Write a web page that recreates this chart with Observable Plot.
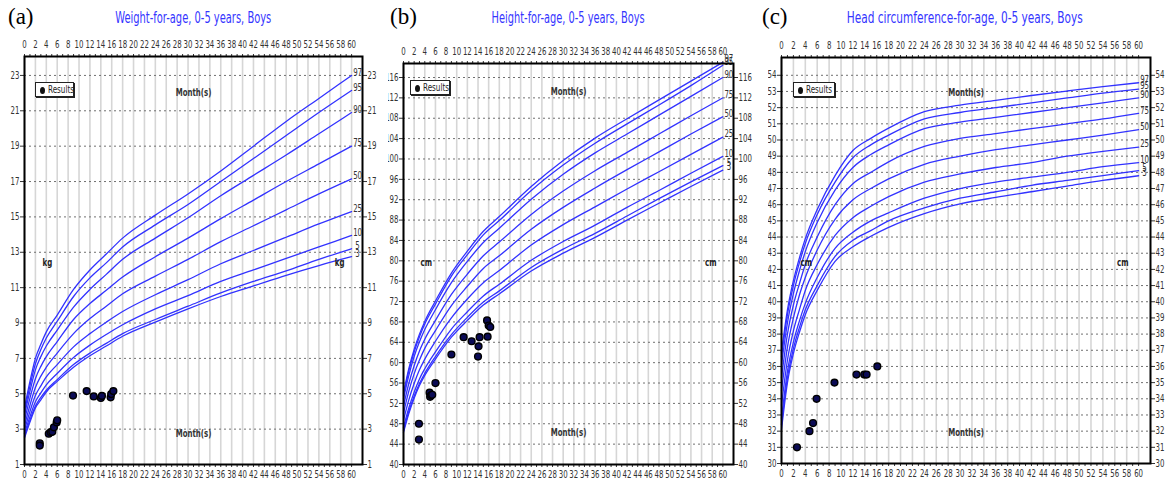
<!DOCTYPE html>
<html><head><meta charset="utf-8">
<script src="https://cdn.jsdelivr.net/npm/d3@7"></script>
<script src="https://cdn.jsdelivr.net/npm/@observablehq/plot@0.6"></script>
<style>
html,body{margin:0;padding:0;background:#fff;}
body{width:1170px;height:487px;overflow:hidden;position:relative;font-family:"DejaVu Sans Condensed","Liberation Sans",sans-serif;}
.panel{position:absolute;top:0;}
.lab{position:absolute;font-family:"Liberation Serif","DejaVu Serif",serif;font-size:23px;color:#000;line-height:1;}
.fit{position:absolute;white-space:nowrap;transform-origin:center center;line-height:1;}
.title{font-size:15px;color:#3535ff;}
.legend{position:absolute;border:1px solid #222;box-shadow:1px 1px 0 #222;background:#fff;font-size:10px;color:#222;height:15px;line-height:13px;box-sizing:border-box;white-space:nowrap;overflow:hidden;}
.legend i{display:inline-block;width:5px;height:7px;border-radius:50%;background:#111;margin:0 3px 0 4px;vertical-align:-1px;}
.legend span{display:inline-block;transform:scaleX(0.8);transform-origin:left center;}
</style></head>
<body>
<div class="lab" style="left:8px;top:5px">(a)</div>
<div class="lab" style="left:390px;top:5px">(b)</div>
<div class="lab" style="left:762px;top:5px">(c)</div>
<div class="fit title" data-cx="193" data-w="156" style="top:11px">Weight-for-age, 0-5 years, Boys</div>
<div class="fit title" data-cx="568" data-w="153" style="top:11px">Height-for-age, 0-5 years, Boys</div>
<div class="fit title" data-cx="965" data-w="236" style="top:11px">Head circumference-for-age, 0-5 years, Boys</div>
<div id="pa" class="panel" style="left:0px"></div>
<div id="pb" class="panel" style="left:388px"></div>
<div id="pc" class="panel" style="left:768px"></div>
<div class="legend" style="left:35px;top:82px;width:39px"><i></i><span>Results</span></div>
<div class="legend" style="left:410px;top:80px;width:40px"><i></i><span>Results</span></div>
<div class="legend" style="left:793px;top:82px;width:42px"><i></i><span>Results</span></div>
<script>
// ---------- shared ----------
const percentiles = [97, 95, 90, 75, 50, 25, 10, 5, 3];
const curveMonths = [0, 1, 2, 3, 4, 6, 9, 12, 15, 18, 24, 30, 36, 42, 48, 54, 60];
const xLabels = [0,2,4,6,8,10,12,14,16,18,20,22,24,26,28,30,32,34,36,38,40,42,44,46,48,50,52,54,56,58,60];

// ---------- (a) weight-for-age, kg ----------
const weightTicks = [1,3,5,7,9,11,13,15,17,19,21,23];
const weight97 = [4.2, 5.7, 7.0, 7.8, 8.5, 9.45, 10.9, 12.0, 12.9, 13.8, 15.1, 16.3, 17.6, 19.0, 20.4, 21.7, 23.0];
const weight95 = [4.0, 5.45, 6.7, 7.5, 8.15, 9.1, 10.5, 11.55, 12.4, 13.3, 14.55, 15.7, 17.0, 18.3, 19.6, 20.9, 22.15];
const weight90 = [3.8, 5.15, 6.35, 7.1, 7.7, 8.6, 9.9, 10.9, 11.75, 12.6, 13.8, 14.95, 16.2, 17.35, 18.5, 19.7, 20.9];
const weight75 = [3.5, 4.75, 5.85, 6.55, 7.1, 7.95, 9.2, 10.1, 10.85, 11.6, 12.75, 13.8, 14.9, 15.95, 17.0, 18.0, 19.0];
const weight50 = [3.2, 4.35, 5.35, 6.0, 6.5, 7.3, 8.4, 9.25, 9.95, 10.65, 11.65, 12.6, 13.6, 14.5, 15.4, 16.3, 17.15];
const weight25 = [2.95, 4.0, 4.9, 5.45, 5.95, 6.65, 7.65, 8.4, 9.05, 9.65, 10.6, 11.45, 12.35, 13.1, 13.85, 14.6, 15.3];
const weight10 = [2.75, 3.7, 4.55, 5.05, 5.5, 6.15, 7.05, 7.75, 8.35, 8.9, 9.8, 10.55, 11.35, 12.0, 12.65, 13.3, 13.95];
const weight5  = [2.6, 3.5, 4.3, 4.8, 5.2, 5.8, 6.65, 7.3, 7.85, 8.4, 9.2, 9.95, 10.7, 11.35, 11.95, 12.6, 13.2];
const weight3  = [2.5, 3.4, 4.2, 4.65, 5.1, 5.7, 6.5, 7.15, 7.7, 8.25, 9.05, 9.8, 10.5, 11.1, 11.7, 12.25, 12.75];
const weightPtMonths = [2.8, 2.8, 4.45, 4.8, 5.1, 5.4, 5.9, 6.0, 8.9, 11.4, 12.7, 14.0, 14.2, 15.8, 15.9, 16.3];
const weightPtValues = [2.2, 2.07, 2.74, 2.83, 2.85, 3.1, 3.38, 3.5, 4.9, 5.15, 4.85, 4.76, 4.88, 4.8, 4.98, 5.15];

// ---------- (b) height-for-age, cm ----------
const heightTicks = [40,44,48,52,56,60,64,68,72,76,80,84,88,92,96,100,104,108,112,116];
const height97 = [54.0, 58.8, 62.6, 65.6, 68.1, 72.1, 77.6, 81.9, 85.8, 88.7, 94.6, 99.7, 104.1, 107.9, 111.6, 115.3, 119.0];
const height95 = [53.6, 58.4, 62.1, 65.1, 67.6, 71.5, 77.0, 81.2, 85.1, 87.9, 93.8, 98.8, 103.1, 106.9, 110.6, 114.4, 118.4];
const height90 = [52.9, 57.5, 61.2, 64.1, 66.5, 70.4, 75.7, 79.9, 83.6, 86.4, 92.1, 97.0, 101.2, 104.9, 108.6, 112.3, 116.0];
const height75 = [51.5, 55.9, 59.4, 62.3, 64.6, 68.3, 73.4, 77.4, 81.0, 83.7, 89.1, 93.7, 97.7, 101.3, 104.9, 108.5, 112.0];
const height50 = [50.1, 54.4, 57.8, 60.5, 62.8, 66.3, 71.2, 75.0, 78.5, 81.0, 86.2, 90.5, 94.3, 97.9, 101.4, 104.9, 108.3];
const height25 = [48.7, 52.7, 55.9, 58.6, 60.7, 64.2, 68.8, 72.5, 75.7, 78.1, 83.1, 87.1, 90.6, 94.1, 97.5, 100.9, 104.3];
const height10 = [47.3, 51.1, 54.2, 56.8, 58.8, 62.1, 66.6, 70.0, 73.1, 75.4, 80.1, 83.8, 87.0, 90.5, 93.8, 97.2, 100.5];
const height5  = [46.6, 50.4, 53.4, 55.9, 57.9, 61.2, 65.5, 68.9, 71.9, 74.1, 78.7, 82.3, 85.4, 88.8, 92.2, 95.5, 98.7];
const height3  = [46.3, 50.0, 53.0, 55.5, 57.5, 60.7, 65.0, 68.3, 71.3, 73.5, 78.0, 81.5, 84.6, 88.0, 91.3, 94.6, 97.8];
const heightPtMonths = [2.9, 2.9, 4.9, 5.0, 5.2, 5.4, 6.0, 9.0, 11.3, 12.8, 14.0, 14.1, 14.3, 15.7, 15.8, 16.0, 16.3];
const heightPtValues = [48.0, 44.9, 54.1, 53.3, 53.6, 53.7, 56.0, 61.6, 65.0, 64.2, 61.2, 63.2, 65.0, 68.3, 65.1, 67.3, 67.0];

// ---------- (c) head circumference-for-age, cm ----------
const headTicks = [30,31,32,33,34,35,36,37,38,39,40,41,42,43,44,45,46,47,48,49,50,51,52,53,54];
const head97 = [36.9, 39.5, 41.3, 42.7, 43.9, 45.7, 47.8, 49.35, 50.1, 50.73, 51.75, 52.15, 52.45, 52.75, 53.03, 53.3, 53.54];
const head95 = [36.6, 39.2, 41.0, 42.4, 43.6, 45.4, 47.4, 48.9, 49.7, 50.3, 51.3, 51.7, 52.0, 52.3, 52.6, 52.9, 53.15];
const head90 = [36.1, 38.7, 40.5, 41.9, 43.1, 44.9, 46.9, 48.3, 49.1, 49.7, 50.7, 51.1, 51.4, 51.7, 52.0, 52.3, 52.6];
const head75 = [35.3, 38.0, 39.8, 41.1, 42.3, 44.0, 46.0, 47.3, 48.0, 48.65, 49.6, 50.1, 50.4, 50.7, 51.0, 51.3, 51.65];
const head50 = [34.5, 37.2, 39.0, 40.4, 41.5, 43.2, 45.1, 46.3, 47.0, 47.6, 48.5, 49.0, 49.4, 49.7, 50.0, 50.3, 50.64];
const head25 = [33.6, 36.4, 38.2, 39.5, 40.7, 42.3, 44.1, 45.2, 45.9, 46.5, 47.4, 47.9, 48.3, 48.6, 49.0, 49.3, 49.56];
const head10 = [32.8, 35.7, 37.5, 38.8, 39.9, 41.5, 43.3, 44.3, 45.0, 45.5, 46.4, 47.0, 47.4, 47.7, 48.0, 48.35, 48.6];
const head5  = [32.4, 35.3, 37.1, 38.4, 39.5, 41.0, 42.8, 43.8, 44.4, 45.0, 45.8, 46.4, 46.8, 47.2, 47.5, 47.8, 48.1];
const head3  = [32.1, 35.0, 36.8, 38.1, 39.2, 40.7, 42.5, 43.4, 44.05, 44.6, 45.45, 46.05, 46.45, 46.8, 47.15, 47.5, 47.79];
const headPtMonths = [2.6, 4.7, 5.3, 5.9, 8.9, 12.6, 13.9, 14.3, 16.1];
const headPtValues = [31.0, 32.0, 32.5, 34.0, 35.0, 35.5, 35.5, 35.5, 36.0];

const FONT = '"DejaVu Sans Condensed","Liberation Sans",sans-serif';
const allMonths = d3.range(0, 61, 1);

// narrow every text horizontally (the original uses a condensed face)
function condense(svg, s) {
  svg.querySelectorAll("text").forEach(t => {
    const tr = t.getAttribute("transform") || "";
    t.setAttribute("transform", (tr + ` scale(${s},1)`).trim());
  });
  return svg;
}

function panel(cfg) {
  const rows = [];
  cfg.curves.forEach((vals, i) => vals.forEach((v, j) => rows.push({m: curveMonths[j], v, p: percentiles[i]})));
  const ends = cfg.curves.map((vals, i) => ({p: percentiles[i], m: curveMonths[curveMonths.length - 1], v: vals[vals.length - 1]}));
  const pts = cfg.ptMonths.map((m, i) => ({m, v: cfg.ptValues[i]}));
  const svg = Plot.plot({
    width: cfg.width, height: 487,
    marginLeft: cfg.mL, marginRight: cfg.mR, marginTop: cfg.mT, marginBottom: cfg.mB,
    style: {fontFamily: FONT, fontSize: "10px", background: "transparent", color: "#333"},
    x: {domain: [0, 62], axis: null},
    y: {domain: cfg.yDomain, axis: null},
    marks: [
      Plot.gridX(xLabels, {stroke: "#d6d6d6", strokeOpacity: 1, strokeWidth: 1.6}),
      Plot.gridY(cfg.yTicks, {stroke: "#707070", strokeOpacity: 1, strokeDasharray: "2,3", strokeWidth: 1}),
      Plot.line(rows, {x: "m", y: "v", z: "p", stroke: "#3232ff", strokeWidth: 1.3, curve: "monotone-x"}),
      Plot.text(ends, {x: "m", y: "v", text: d => String(d.p), dx: 6, dy: -3, fontSize: 10, fill: "#333"}),
      Plot.dot(pts, {x: "m", y: "v", r: 3.4, fill: "#0b0b55", stroke: "#000", strokeWidth: 1.4}),
      Plot.text([cfg.unit], {frameAnchor: "left", text: d => d, dx: cfg.unitDxL, dy: cfg.unitDy, fontSize: 10, fill: "#222", fontWeight: "bold"}),
      Plot.text([cfg.unit], {frameAnchor: "right", text: d => d, dx: cfg.unitDxR, dy: cfg.unitDy, fontSize: 10, fill: "#222", fontWeight: "bold"}),
      Plot.text(["Month(s)"], {frameAnchor: "top", text: d => d, dy: cfg.monthTopDy, fontSize: 10, fontWeight: "bold", fill: "#333"}),
      Plot.text(["Month(s)"], {frameAnchor: "bottom", text: d => d, dy: cfg.monthBotDy, fontSize: 10, fontWeight: "bold", fill: "#333"}),
      Plot.axisX({anchor: "top", ticks: allMonths, tickSize: 3, tickPadding: 6, tickFormat: d => d % 2 ? "" : d, label: null, fill: "#333", stroke: "#333"}),
      Plot.axisX({anchor: "bottom", ticks: allMonths, tickSize: 3, tickPadding: 3, tickFormat: d => d % 2 ? "" : d, label: null, fill: "#333", stroke: "#333"}),
      Plot.axisY({anchor: "left", ticks: cfg.yTicks, tickSize: 4, tickPadding: 1, label: null, fill: "#333", stroke: "#333"}),
      Plot.axisY({anchor: "right", ticks: cfg.yTicks, tickSize: 4, tickPadding: 1, label: null, fill: "#333", stroke: "#333"}),
      Plot.frame({stroke: "#000", strokeWidth: 2})
    ]
  });
  return condense(svg, 0.78);
}

document.getElementById("pa").append(panel({
  width: 390, mL: 24, mR: 28, mT: 56, mB: 23, yDomain: [1, 24.07], yTicks: weightTicks,
  curves: [weight97, weight95, weight90, weight75, weight50, weight25, weight10, weight5, weight3],
  ptMonths: weightPtMonths, ptValues: weightPtValues,
  unit: "kg", unitDxL: 18, unitDxR: -18, unitDy: 2, monthTopDy: 32, monthBotDy: -28
}));
document.getElementById("pb").append(panel({
  width: 390, mL: 15, mR: 45, mT: 63, mB: 23, yDomain: [40, 118.75], yTicks: heightTicks,
  curves: [height97, height95, height90, height75, height50, height25, height10, height5, height3],
  ptMonths: heightPtMonths, ptValues: heightPtValues,
  unit: "cm", unitDxL: 17, unitDxR: -17, unitDy: -1, monthTopDy: 24, monthBotDy: -29
}));
document.getElementById("pc").append(panel({
  width: 402, mL: 13, mR: 20, mT: 57, mB: 24, yDomain: [30, 55.1], yTicks: headTicks,
  curves: [head97, head95, head90, head75, head50, head25, head10, head5, head3],
  ptMonths: headPtMonths, ptValues: headPtValues,
  unit: "cm", unitDxL: 19, unitDxR: -22, unitDy: 2, monthTopDy: 31, monthBotDy: -28
}));

document.querySelectorAll(".fit").forEach(el => {
  const w = el.getBoundingClientRect().width;
  const target = +el.dataset.w, cx = +el.dataset.cx;
  el.style.left = (cx - w / 2) + "px";
  el.style.transform = `scaleX(${target / w})`;
});
</script>
</body></html>
